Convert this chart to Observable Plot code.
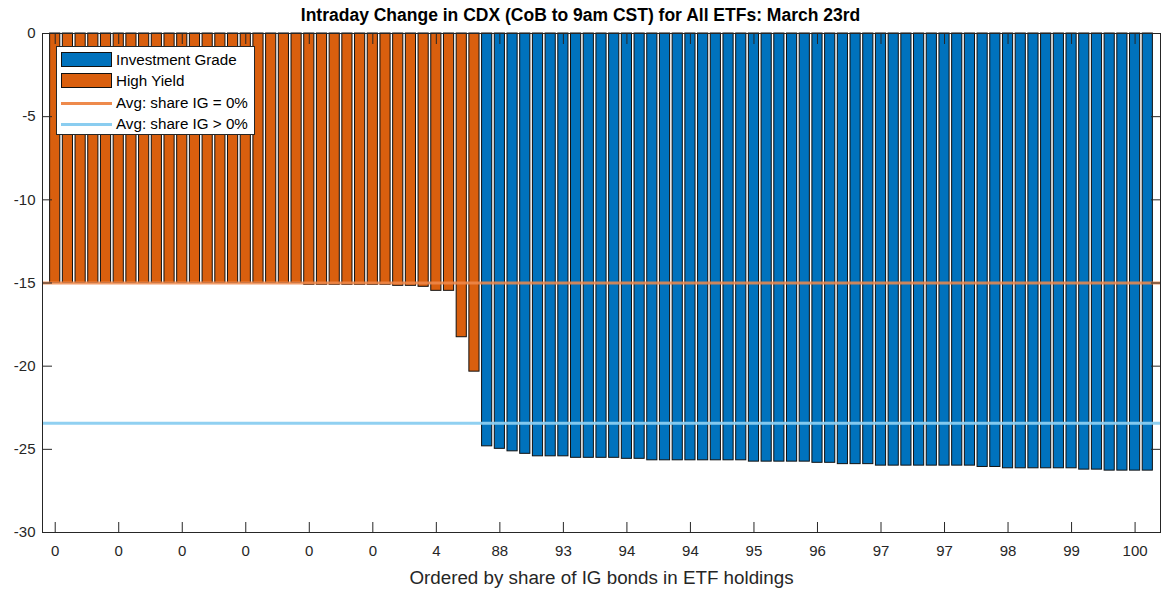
<!DOCTYPE html>
<html>
<head>
<meta charset="utf-8">
<script src="https://cdn.jsdelivr.net/npm/d3@7"></script>
<script src="https://cdn.jsdelivr.net/npm/@observablehq/plot@0.6"></script>
<style>
  body { margin: 0; background: #fff; font-family: "Liberation Sans", Arial, sans-serif; }
  #wrap { position: relative; width: 1161px; height: 591px; }
  #title { height: 24px; line-height: 30px; text-align: center; font-weight: bold; font-size: 17.5px; color: #000; white-space: nowrap; }
  #legend { position: absolute; left: 56px; top: 46px; width: 197px; height: 87px; background: #fff; border: 1px solid #262626; font-size: 15.2px; color: #000; }
  .row { position: absolute; left: 0; height: 20px; width: 197px; }
  .sw { position: absolute; left: 4px; width: 49px; }
  .lab { position: absolute; left: 59px; top: 0; line-height: 20px; white-space: nowrap; }
</style>
</head>
<body>
<div id="wrap">
  <div id="title"></div>
  <div id="chart"></div>
  <div id="legend"></div>
</div>
<script>
// ---- data ----
const chartTitle = "Intraday Change in CDX (CoB to 9am CST) for All ETFs: March 23rd";
const xLabel = "Ordered by share of IG bonds in ETF holdings";
const categories = ["Investment Grade", "High Yield"];
const lineNames = ["Avg: share IG = 0%", "Avg: share IG > 0%"];

// High Yield ETFs (bars 1–34), change in CDX
const hyValues = [
  -15.0, -15.0, -15.0, -15.0, -15.0, -15.0, -15.0, -15.0, -15.0, -15.0,
  -15.0, -15.0, -15.0, -15.0, -15.0, -15.0, -15.0, -15.0, -15.0, -15.0,
  -15.11, -15.11, -15.11, -15.11, -15.11, -15.11, -15.11,
  -15.17, -15.17, -15.23, -15.47, -15.47, -18.26, -20.33
];
// Investment Grade ETFs (bars 35–87)
const igValues = [
  -24.82, -24.97, -25.12, -25.27, -25.42, -25.42, -25.42,
  -25.51, -25.51, -25.51, -25.51, -25.57, -25.57,
  -25.66, -25.66, -25.66, -25.66, -25.66, -25.66, -25.66, -25.66,
  -25.74, -25.74, -25.74, -25.74, -25.74,
  -25.81, -25.81, -25.89, -25.89, -25.89,
  -25.98, -25.98, -25.98, -25.98, -25.98, -25.98, -25.98, -25.98,
  -26.06, -26.06,
  -26.14, -26.14, -26.14, -26.14, -26.14, -26.14,
  -26.22, -26.22,
  -26.28, -26.28, -26.28, -26.28
];
// averages drawn as horizontal lines
const avgShareZero = -15.0;
const avgSharePositive = -23.43;
// x tick labels (IG share, every 5th ETF starting at the first)
const tickLabels = ["0","0","0","0","0","0","4","88","93","94","94","95","96","97","97","98","99","100"];
const yTicks = [-30, -25, -20, -15, -10, -5, 0];

// ---- build table ----
const data = [
  ...hyValues.map((v, k) => ({ i: k + 1, v, cat: "High Yield" })),
  ...igValues.map((v, k) => ({ i: hyValues.length + k + 1, v, cat: "Investment Grade" }))
];
const tickBars = tickLabels.map((_, k) => 1 + 5 * k);
const labelOf = new Map(tickBars.map((b, k) => [b, tickLabels[k]]));

const ink = "#262626";
const colIG = "#0072BD", colHY = "#D95F0E";
const lineHY = "#EE8A4C", lineIG = "#8ACDF0";

const chart = Plot.plot({
  width: 1161,
  height: 567,
  marginTop: 9,
  marginBottom: 59,
  marginLeft: 42,
  marginRight: 1,
  style: { fontFamily: "'Liberation Sans', Arial, sans-serif", fontSize: "15px", color: ink, background: "#fff", overflow: "visible" },
  x: { type: "band", domain: d3.range(1, data.length + 1), paddingInner: 0.2, paddingOuter: 0.6, align: 0.5 },
  y: { domain: [-30, 0] },
  color: { domain: categories, range: [colIG, colHY] },
  marks: [
    Plot.barY(data, { x: "i", y: "v", fill: "cat", stroke: "#111", strokeWidth: 1 }),
    Plot.ruleY([avgShareZero], { stroke: lineHY, strokeWidth: 3, strokeOpacity: 0.85 }),
    Plot.ruleY([avgSharePositive], { stroke: lineIG, strokeWidth: 3, strokeOpacity: 0.95 }),
    Plot.axisY({ anchor: "left", ticks: yTicks, tickSize: -10, tickPadding: 17, tickFormat: d => String(d), label: null, stroke: ink, fill: ink }),
    Plot.axisY({ anchor: "right", ticks: yTicks, tickSize: -10, fill: "none", label: null, stroke: ink }),
    Plot.axisX({ anchor: "bottom", ticks: tickBars, tickSize: -10, tickPadding: 23, tickFormat: d => labelOf.get(d),
                 label: xLabel, labelAnchor: "center", labelOffset: 51, stroke: ink, fill: ink, fontSize: 15 }),
    Plot.axisX({ anchor: "top", ticks: tickBars, tickSize: -10, fill: "none", label: null, stroke: ink }),
    Plot.frame({ stroke: ink, strokeWidth: 1 })
  ]
});
document.getElementById("chart").appendChild(chart);
document.getElementById("title").textContent = chartTitle;

// style the axis label larger
chart.querySelectorAll("text").forEach(t => {
  if (t.textContent === xLabel) t.setAttribute("font-size", "18.8px");
});

// ---- legend ----
const legend = document.getElementById("legend");
const entries = [
  { name: categories[0], type: "patch", color: colIG },
  { name: categories[1], type: "patch", color: colHY },
  { name: lineNames[0], type: "line", color: lineHY },
  { name: lineNames[1], type: "line", color: lineIG }
];
entries.forEach((e, k) => {
  const row = document.createElement("div");
  row.className = "row";
  row.style.top = (3 + k * 21.3) + "px";
  const sw = document.createElement("div");
  sw.className = "sw";
  if (e.type === "patch") {
    sw.style.top = "2px"; sw.style.height = "13px"; sw.style.background = e.color;
    sw.style.border = "1px solid #111"; sw.style.width = "49px";
  } else {
    sw.style.top = "9px"; sw.style.height = "3px"; sw.style.background = e.color; sw.style.width = "51px";
  }
  const lab = document.createElement("div");
  lab.className = "lab";
  lab.textContent = e.name;
  row.appendChild(sw); row.appendChild(lab);
  legend.appendChild(row);
});
</script>
</body>
</html>
